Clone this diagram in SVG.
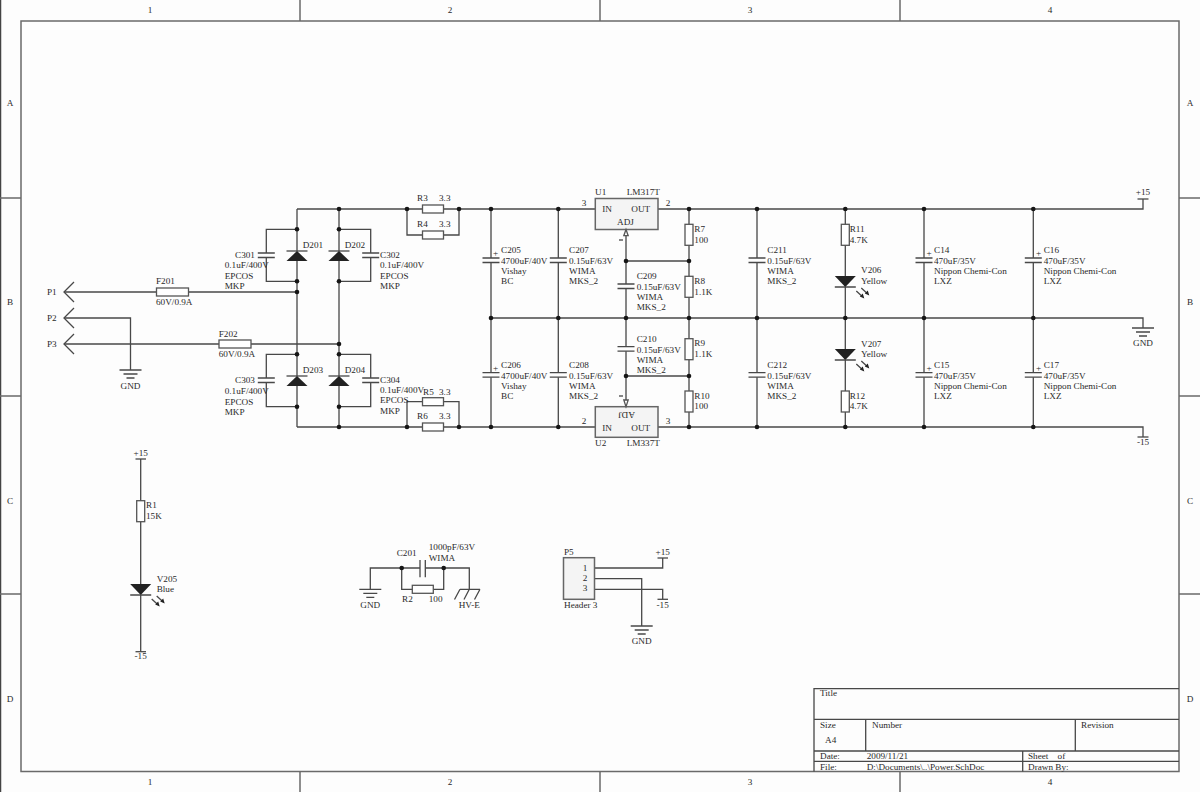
<svg xmlns="http://www.w3.org/2000/svg" xmlns:xlink="http://www.w3.org/1999/xlink" width="1200" height="792" viewBox="0 0 1200 792">
<style>
.w{fill:none;stroke:#484848;stroke-width:1.3}
.f{fill:none;stroke:#6a6a6a;stroke-width:1.5}
.b{fill:#fff;stroke:#555;stroke-width:1.3}
.u{fill:#f4f4f4;stroke:#666;stroke-width:1.5}
.d{fill:#222;stroke:none}
.j{fill:#161616}
text{font-family:"Liberation Serif","Times New Roman",serif;font-size:9.2px;fill:#2a2a2a}
.m{text-anchor:middle}
</style>
<defs>
<g id="gnd"><path class="w" d="M-11 0H11M-7 4H7M-4 8H4"/></g>
<g id="capH"><path class="w" d="M-8.5 0H8.5M-8.5 4.5H8.5"/></g>
<g id="dio"><path class="d" d="M0 0L-10.5 10H10.5Z"/><path class="w" d="M-10.5 0H10.5"/></g>
<g id="led"><path class="d" d="M0 11L-10.5 0H10.5Z"/><path class="w" d="M-10.5 11H10.5M11 15L17 20.5M16 12L22 17.5"/><path class="d" d="M19 22.5L14.5 20.5L17.5 17.5ZM24 19.5L19.5 17.5L22.5 14.5Z"/></g>
<g id="resV"><rect class="b" x="-4" y="0" width="8" height="21"/></g>
<g id="resH"><rect class="b" x="0" y="-4" width="21" height="8"/></g>
<g id="chev"><path class="w" d="M10 -10L0 0L10 10"/></g>
</defs>
<rect width="1200" height="792" fill="#fdfdfd"/>
<g id="frame">
<path d="M0.500 0V792" fill="none" stroke="#444" stroke-width="1.5"/>
<rect class="f" x="21" y="21" width="1158" height="750.500"/>
<path class="f" d="M300 0V21M600 0V21M900 0V21M300 771V792M600 771V792M900 771V792M0 198H21M0 396H21M0 594H21M1179 198H1200M1179 396H1200M1179 594H1200"/>
<text class="m" x="150" y="13">1</text><text class="m" x="450" y="13">2</text><text class="m" x="750" y="13">3</text><text class="m" x="1050" y="13">4</text>
<text class="m" x="150" y="785">1</text><text class="m" x="450" y="785">2</text><text class="m" x="750" y="785">3</text><text class="m" x="1050" y="785">4</text>
<text class="m" x="10" y="106">A</text><text class="m" x="10" y="305">B</text><text class="m" x="10" y="504">C</text><text class="m" x="10" y="702">D</text>
<text class="m" x="1190" y="106">A</text><text class="m" x="1190" y="305">B</text><text class="m" x="1190" y="504">C</text><text class="m" x="1190" y="702">D</text>
</g>
<g id="title-block">
<path class="w" d="M814 771.500V688.700H1179M814 719.300H1179M814 751H1179M814 761.300H1179M865.700 719.300V751M1075.300 719.300V751M1022.700 751V771.500"/>
<text x="820" y="696">Title</text><text x="820" y="727.700">Size</text><text x="825" y="743">A4</text><text x="872" y="727.700">Number</text><text x="1081" y="727.700">Revision</text>
<text x="820" y="758.700">Date:</text><text x="866.700" y="758.700">2009/11/21</text><text x="1028" y="758.700" xml:space="preserve">Sheet    of</text>
<text x="820" y="769.500">File:</text><text x="866.700" y="769.500">D:\Documents\..\Power.SchDoc</text><text x="1028" y="769.500">Drawn By:</text>
</g>
<g id="connectors">
<path class="w" d="M297 209V427M339 209V427M297 209H595M658 209H1143V199M297 427H595M658 427H1143V437M491 318H1143V328M407 209V235H459V209M407 427V401.700H459V427"/>
<path class="w" d="M64 292H297M64 318H130.500V370M64 344H339"/>
<path class="w" d="M297 229.300H266.300V253M266.300 258V281.300H297M339 229.300H370.700V253M370.700 258V281.300H339M297 354.300H266.300V378M266.300 383V406.700H297M339 354.300H370.700V378M370.700 383V406.700H339"/>
<path class="w" d="M491 209V258M491 262.500V372.700M491 377.200V427M558.300 209V258M558.300 262.500V372.700M558.300 377.200V427M757 209V258M757 262.500V372.700M757 377.200V427M924 209V258M924 262.500V372.700M924 377.200V427M1033.300 209V258M1033.300 262.500V372.700M1033.300 377.200V427"/>
<path class="w" d="M626 235.700V284M626 288.500V346.700M626 351.200V400M626 261H689M626 376H689M689 209V427M845.300 209V427"/>
<path class="w" d="M140.700 459V651.700M370.300 589.300V568H420M425.300 568H469.300V589.300M401.700 568V589.300H443.700V568"/>
<path class="w" d="M594 568H662.700V558M594 578.700H641.700V626M594 589.300H662.700V599.300"/>
<g class="j">
<circle cx="339" cy="209" r="2.300"/><circle cx="407" cy="209" r="2.300"/><circle cx="459" cy="209" r="2.300"/><circle cx="491" cy="209" r="2.300"/><circle cx="558.300" cy="209" r="2.300"/><circle cx="689" cy="209" r="2.300"/><circle cx="757" cy="209" r="2.300"/><circle cx="845.300" cy="209" r="2.300"/><circle cx="924" cy="209" r="2.300"/><circle cx="1033.300" cy="209" r="2.300"/>
<circle cx="339" cy="427" r="2.300"/><circle cx="407" cy="427" r="2.300"/><circle cx="459" cy="427" r="2.300"/><circle cx="491" cy="427" r="2.300"/><circle cx="558.300" cy="427" r="2.300"/><circle cx="689" cy="427" r="2.300"/><circle cx="757" cy="427" r="2.300"/><circle cx="845.300" cy="427" r="2.300"/><circle cx="924" cy="427" r="2.300"/><circle cx="1033.300" cy="427" r="2.300"/>
<circle cx="491" cy="318" r="2.300"/><circle cx="558.300" cy="318" r="2.300"/><circle cx="626" cy="318" r="2.300"/><circle cx="689" cy="318" r="2.300"/><circle cx="757" cy="318" r="2.300"/><circle cx="845.300" cy="318" r="2.300"/><circle cx="924" cy="318" r="2.300"/><circle cx="1033.300" cy="318" r="2.300"/>
<circle cx="626" cy="261" r="2.300"/><circle cx="689" cy="261" r="2.300"/><circle cx="626" cy="376" r="2.300"/><circle cx="689" cy="376" r="2.300"/>
<circle cx="297" cy="229.300" r="2.300"/><circle cx="339" cy="229.300" r="2.300"/><circle cx="297" cy="281.300" r="2.300"/><circle cx="339" cy="281.300" r="2.300"/><circle cx="297" cy="292" r="2.300"/><circle cx="339" cy="344" r="2.300"/><circle cx="297" cy="354.300" r="2.300"/><circle cx="339" cy="354.300" r="2.300"/><circle cx="297" cy="406.700" r="2.300"/><circle cx="339" cy="406.700" r="2.300"/>
<circle cx="401.700" cy="568" r="2.300"/><circle cx="443.700" cy="568" r="2.300"/>
</g>
</g>
<g id="P1"><use href="#chev" x="64" y="292"/><text x="47" y="295">P1</text></g>
<g id="P2"><use href="#chev" x="64" y="318"/><text x="47" y="321">P2</text></g>
<g id="P3"><use href="#chev" x="64" y="344"/><text x="47" y="347">P3</text></g>
<g id="GND1"><use href="#gnd" x="130.500" y="370"/><text class="m" x="130.500" y="388.700">GND</text></g>
<g id="F201"><rect class="b" x="156.500" y="288" width="32" height="8"/><text x="156" y="284.300">F201</text><text x="156" y="305.300">60V/0.9A</text></g>
<g id="F202"><rect class="b" x="219" y="340" width="32" height="8"/><text x="218.700" y="336.700">F202</text><text x="218.700" y="357.300">60V/0.9A</text></g>
<g id="C301"><use href="#capH" x="266.300" y="253"/><text x="235" y="257.700">C301</text><text x="224.700" y="268.300">0.1uF/400V</text><text x="224.700" y="279">EPCOS</text><text x="224.700" y="289.300">MKP</text></g>
<g id="C302"><use href="#capH" x="370.700" y="253"/><text x="380" y="257.700">C302</text><text x="380" y="268">0.1uF/400V</text><text x="380" y="278.500">EPCOS</text><text x="380" y="289">MKP</text></g>
<g id="C303"><use href="#capH" x="266.300" y="378"/><text x="235" y="383.300">C303</text><text x="224.700" y="394">0.1uF/400V</text><text x="224.700" y="404.700">EPCOS</text><text x="224.700" y="415">MKP</text></g>
<g id="C304"><use href="#capH" x="370.700" y="378"/><text x="380" y="383.300">C304</text><text x="380" y="392.700">0.1uF/400V</text><text x="380" y="403">EPCOS</text><text x="380" y="414">MKP</text></g>
<g id="D201"><use href="#dio" x="297" y="251"/><text x="302.700" y="247.700">D201</text></g>
<g id="D202"><use href="#dio" x="339" y="251"/><text x="344.700" y="247.700">D202</text></g>
<g id="D203"><use href="#dio" x="297" y="376"/><text x="302.700" y="372.700">D203</text></g>
<g id="D204"><use href="#dio" x="339" y="376"/><text x="344.700" y="372.700">D204</text></g>
<g id="R3"><use href="#resH" x="422.500" y="209"/><text x="417" y="201">R3</text><text x="439" y="201">3.3</text></g>
<g id="R4"><use href="#resH" x="422.500" y="235"/><text x="417" y="227">R4</text><text x="439" y="227">3.3</text></g>
<g id="R5"><use href="#resH" x="422.500" y="401.700"/><text x="423" y="394.500">R5</text><text x="439" y="394.500">3.3</text></g>
<g id="R6"><use href="#resH" x="422.500" y="427"/><text x="417" y="419">R6</text><text x="439" y="419">3.3</text></g>
<g id="C205"><use href="#capH" x="491" y="258"/><text x="493" y="256">+</text><text x="501" y="253.300">C205</text><text x="501" y="263.500">4700uF/40V</text><text x="501" y="274">Vishay</text><text x="501" y="284.400">BC</text></g>
<g id="C206"><use href="#capH" x="491" y="372.700"/><text x="493" y="371">+</text><text x="501" y="368">C206</text><text x="501" y="378.500">4700uF/40V</text><text x="501" y="389">Vishay</text><text x="501" y="399">BC</text></g>
<g id="C207"><use href="#capH" x="558.300" y="258"/><text x="569" y="253.300">C207</text><text x="569" y="263.500">0.15uF/63V</text><text x="569" y="274">WIMA</text><text x="569" y="284.400">MKS_2</text></g>
<g id="C208"><use href="#capH" x="558.300" y="372.700"/><text x="569" y="368">C208</text><text x="569" y="378.500">0.15uF/63V</text><text x="569" y="389">WIMA</text><text x="569" y="399">MKS_2</text></g>
<g id="C209"><use href="#capH" x="626" y="284"/><text x="636.700" y="279.300">C209</text><text x="636.700" y="290">0.15uF/63V</text><text x="636.700" y="300">WIMA</text><text x="636.700" y="310.300">MKS_2</text></g>
<g id="C210"><use href="#capH" x="626" y="346.700"/><text x="636.700" y="342">C210</text><text x="636.700" y="352.500">0.15uF/63V</text><text x="636.700" y="362.700">WIMA</text><text x="636.700" y="373">MKS_2</text></g>
<g id="U1"><rect class="u" x="595.300" y="198.500" width="62.700" height="31"/><path class="b" d="M626 229.500L623.800 235.700H628.200Z"/><path class="w" d="M619 240H623"/><text x="595" y="195.300">U1</text><text x="626.700" y="195.300">LM317T</text><text x="602.300" y="211.700">IN</text><text x="631.300" y="211.700">OUT</text><text x="617" y="224.700">ADJ</text><text class="m" x="584" y="206">3</text><text class="m" x="668" y="206">2</text></g>
<g id="U2"><rect class="u" x="595.300" y="406.700" width="62.700" height="30.600"/><path class="b" d="M626 406.700L623.800 400H628.200Z"/><path class="w" d="M619 396H623"/><text x="595" y="445.700">U2</text><text x="626.700" y="445.700">LM337T</text><text x="602.300" y="430.700">IN</text><text x="631.300" y="430.700">OUT</text><text transform="rotate(180 626 414.500)" x="617" y="417.500">ADJ</text><text class="m" x="584" y="424">2</text><text class="m" x="668" y="424">3</text></g>
<g id="R7"><use href="#resV" x="689" y="224.300"/><text x="694.300" y="231.700">R7</text><text x="694.300" y="243">100</text></g>
<g id="R8"><use href="#resV" x="689" y="276.300"/><text x="694.300" y="284">R8</text><text x="694.300" y="295">1.1K</text></g>
<g id="R9"><use href="#resV" x="689" y="338.700"/><text x="694.300" y="346">R9</text><text x="694.300" y="356.700">1.1K</text></g>
<g id="R10"><use href="#resV" x="689" y="391"/><text x="694.300" y="398.700">R10</text><text x="694.300" y="409">100</text></g>
<g id="C211"><use href="#capH" x="757" y="258"/><text x="767.300" y="253.300">C211</text><text x="767.300" y="263.500">0.15uF/63V</text><text x="767.300" y="274">WIMA</text><text x="767.300" y="284.400">MKS_2</text></g>
<g id="C212"><use href="#capH" x="757" y="372.700"/><text x="767.300" y="368">C212</text><text x="767.300" y="378.500">0.15uF/63V</text><text x="767.300" y="389">WIMA</text><text x="767.300" y="399">MKS_2</text></g>
<g id="R11"><use href="#resV" x="845.300" y="224.300"/><text x="849.700" y="231.700">R11</text><text x="849.700" y="243">4.7K</text></g>
<g id="R12"><use href="#resV" x="845.300" y="391"/><text x="849.700" y="398.700">R12</text><text x="849.700" y="409">4.7K</text></g>
<g id="V206"><use href="#led" x="845.300" y="276"/><text x="861" y="273">V206</text><text x="861" y="284">Yellow</text></g>
<g id="V207"><use href="#led" x="845.300" y="349"/><text x="861" y="346.700">V207</text><text x="861" y="357">Yellow</text></g>
<g id="C14"><use href="#capH" x="924" y="258"/><text x="926.500" y="256">+</text><text x="934" y="253.300">C14</text><text x="934" y="263.500">470uF/35V</text><text x="934" y="274">Nippon Chemi-Con</text><text x="934" y="284.400">LXZ</text></g>
<g id="C15"><use href="#capH" x="924" y="372.700"/><text x="926.500" y="371">+</text><text x="934" y="368">C15</text><text x="934" y="378.500">470uF/35V</text><text x="934" y="389">Nippon Chemi-Con</text><text x="934" y="399">LXZ</text></g>
<g id="C16"><use href="#capH" x="1033.300" y="258"/><text x="1036" y="256">+</text><text x="1043.700" y="253.300">C16</text><text x="1043.700" y="263.500">470uF/35V</text><text x="1043.700" y="274">Nippon Chemi-Con</text><text x="1043.700" y="284.400">LXZ</text></g>
<g id="C17"><use href="#capH" x="1033.300" y="372.700"/><text x="1036" y="371">+</text><text x="1043.700" y="368">C17</text><text x="1043.700" y="378.500">470uF/35V</text><text x="1043.700" y="389">Nippon Chemi-Con</text><text x="1043.700" y="399">LXZ</text></g>
<g id="PWR-P15"><path class="w" d="M1137.500 199H1148.500"/><text class="m" x="1143" y="195">+15</text></g>
<g id="GND2"><use href="#gnd" x="1143" y="328"/><text class="m" x="1143" y="346">GND</text></g>
<g id="PWR-N15"><path class="w" d="M1137.500 437H1148.500"/><text class="m" x="1143" y="445.300">-15</text></g>
<g id="PWR-P15b"><path class="w" d="M135.500 459H146"/><text class="m" x="140.700" y="456">+15</text></g>
<g id="R1"><use href="#resV" x="140.700" y="500.700"/><text x="146" y="508">R1</text><text x="146" y="519">15K</text></g>
<g id="V205"><use href="#led" x="140.700" y="584"/><text x="156.700" y="581.700">V205</text><text x="156.700" y="592">Blue</text></g>
<g id="PWR-N15b"><path class="w" d="M135.500 651.700H146"/><text class="m" x="140.700" y="659.300">-15</text></g>
<g id="GND3"><use href="#gnd" x="370.300" y="589.300"/><text class="m" x="370.300" y="607.700">GND</text></g>
<g id="C201"><path class="w" d="M420 560V577.300M425.300 560V577.300"/><text x="396.700" y="555.700">C201</text><text x="428.700" y="550">1000pF/63V</text><text x="428.700" y="561">WIMA</text></g>
<g id="R2"><use href="#resH" x="412.300" y="589.300"/><text x="402" y="602.300">R2</text><text x="428.700" y="602.300">100</text></g>
<g id="HV-E"><path class="w" d="M460 589.300H480M460 589.300L454.500 599.500M469.300 589.300L464 599.500M480 589.300L474.500 599.500"/><text class="m" x="469.300" y="607.700">HV-E</text></g>
<g id="P5"><rect class="u" x="563.500" y="557.700" width="31" height="41.600"/><text x="564" y="555">P5</text><text x="564" y="607.700">Header 3</text><text class="m" x="585" y="570.700">1</text><text class="m" x="585" y="581">2</text><text class="m" x="585" y="591">3</text></g>
<g id="PWR-P15c"><path class="w" d="M657.500 558H668"/><text class="m" x="662.700" y="555">+15</text></g>
<g id="PWR-N15c"><path class="w" d="M657.500 599.300H668"/><text class="m" x="662.700" y="607.500">-15</text></g>
<g id="GND4"><use href="#gnd" x="641.700" y="626"/><text class="m" x="641.700" y="644">GND</text></g>
</svg>
